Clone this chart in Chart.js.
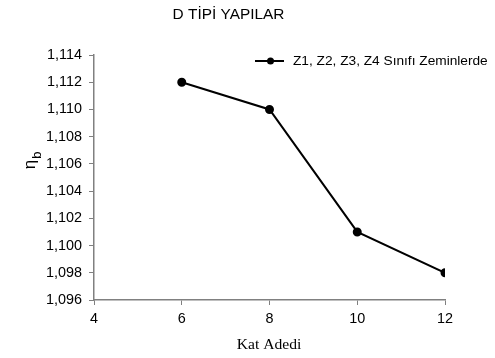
<!DOCTYPE html>
<html><head><meta charset="utf-8">
<script src="https://cdn.jsdelivr.net/npm/chart.js@4/dist/chart.umd.min.js"></script>
<style>html,body{margin:0;padding:0;background:#fff}#wrap{width:495px;height:358px}</style>
</head><body><div id="wrap"><canvas id="c" width="495" height="358"></canvas></div>
<script>
const titleText = "D TİPİ YAPILAR";
const xTitle = "Kat Adedi";
const seriesLabel = "Z1, Z2, Z3, Z4 Sınıfı Zeminlerde";
const katAdedi = [6, 8, 10, 12];
const etaB = [1.112, 1.110, 1.101, 1.098];

const sans = "'Liberation Sans', Arial, Helvetica, sans-serif";
const serif = "'Liberation Serif', 'Times New Roman', serif";

const decor = {
  id: 'decor',
  afterDraw(chart) {
    const ctx = chart.ctx;
    const a = chart.chartArea;
    ctx.save();
    ctx.fillStyle = '#000';
    ctx.font = "15.4px " + sans;
    ctx.textAlign = 'center'; ctx.textBaseline = 'middle';
    ctx.fillText(titleText, 228.5, 15);
    ctx.font = "15.6px " + serif;
    ctx.fillText(xTitle, 269, 345);
    // y title eta_b rotated
    ctx.save();
    ctx.translate(31, 160);
    ctx.rotate(-Math.PI / 2);
    ctx.textAlign = 'left'; ctx.textBaseline = 'alphabetic';
    ctx.font = "17px " + sans;
    const w = ctx.measureText('η').width;
    const total = w + 9;
    ctx.fillText('η', -total / 2, 4);
    ctx.font = "13px " + sans;
    ctx.fillText('b', -total / 2 + w + 1, 10);
    ctx.restore();
    // legend
    const ly = 61;
    ctx.strokeStyle = '#000'; ctx.lineWidth = 2;
    ctx.beginPath(); ctx.moveTo(255, ly); ctx.lineTo(284, ly); ctx.stroke();
    ctx.beginPath(); ctx.arc(270.5, ly, 3.5, 0, Math.PI * 2); ctx.fill();
    ctx.font = "13.7px " + sans;
    ctx.textAlign = 'left'; ctx.textBaseline = 'middle';
    ctx.fillText(seriesLabel, 293, ly);
    ctx.restore();
  }
};

new Chart(document.getElementById('c'), {
  type: 'line',
  data: {
    datasets: [{
      label: seriesLabel,
      data: katAdedi.map((x, i) => ({ x: x, y: etaB[i] })),
      borderColor: '#000', backgroundColor: '#000',
      borderWidth: 2, pointRadius: 3.5, pointHoverRadius: 3.5,
      tension: 0
    }]
  },
  options: {
    responsive: false, animation: false,
    layout: { padding: { left: 0, right: 50, top: 55, bottom: 0 } },
    plugins: { legend: { display: false }, title: { display: false }, tooltip: { enabled: false } },
    scales: {
      x: {
        type: 'linear', min: 4, max: 12,
        ticks: { stepSize: 2, color: '#000', font: { family: sans, size: 14.4 }, padding: 5 },
        grid: { drawOnChartArea: false, drawTicks: true, tickLength: 5, color: '#808080' },
        border: { color: '#808080', width: 1.5 },
        afterFit(s) { s.height = 58; }
      },
      y: {
        min: 1.096, max: 1.114,
        ticks: { stepSize: 0.002, color: '#000', font: { family: sans, size: 14.4 }, padding: 7,
          callback: v => Number(v).toFixed(3).replace('.', ',') },
        grid: { drawOnChartArea: false, drawTicks: true, tickLength: 5, color: '#808080' },
        border: { color: '#808080', width: 1.5 },
        afterFit(s) { s.width = 94; }
      }
    }
  },
  plugins: [decor]
});
</script>
</body></html>
